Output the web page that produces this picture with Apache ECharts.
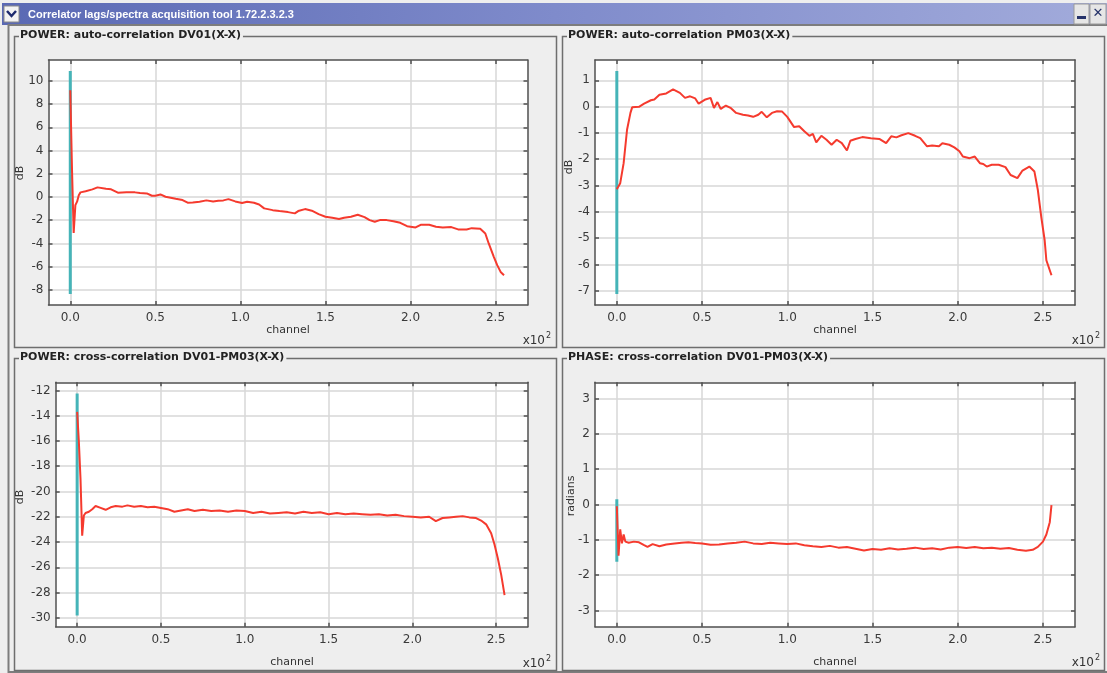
<!DOCTYPE html>
<html><head><meta charset="utf-8">
<script src="https://cdn.jsdelivr.net/npm/echarts@6/dist/echarts.min.js"></script>
<style>html,body{margin:0;padding:0;background:#eeeeee}#c{width:1107px;height:673px}</style>
</head><body><div id="c"></div>
<script>
// ---------- tick labels ----------
const channelTicks = [0, 50, 100, 150, 200, 250];
const dv01Ticks = [-8, -6, -4, -2, 0, 2, 4, 6, 8, 10];
const pm03Ticks = [-7, -6, -5, -4, -3, -2, -1, 0, 1];
const crossTicks = [-30, -28, -26, -24, -22, -20, -18, -16, -14, -12];
const phaseTicks = [-3, -2, -1, 0, 1, 2, 3];

// ---------- POWER auto-correlation DV01 (dB) ----------
const dv01Channel = [0,1,2,3,4,5,6,9,13,16,21,24,28,33,38,41,45,48,50,53,56,59,62,66,69,72,76,80,84,87,90,93,97,101,104,108,111,114,119,123,128,132,134,138,142,146,150,154,158,161,165,169,173,176,179,182,186,190,194,198,203,206,211,215,219,224,228,233,236,241,244,246,249,251,253,255];
const dv01Power = [9.2,2.5,-3.1,-0.7,-0.4,0.15,0.4,0.5,0.66,0.83,0.71,0.66,0.37,0.40,0.40,0.34,0.31,0.11,0.11,0.22,0.02,-0.06,-0.15,-0.26,-0.49,-0.47,-0.41,-0.29,-0.38,-0.32,-0.29,-0.18,-0.38,-0.52,-0.41,-0.49,-0.64,-0.98,-1.13,-1.21,-1.30,-1.41,-1.21,-1.04,-1.18,-1.47,-1.70,-1.79,-1.90,-1.79,-1.70,-1.53,-1.73,-1.99,-2.13,-1.99,-1.99,-2.08,-2.22,-2.51,-2.62,-2.39,-2.39,-2.56,-2.62,-2.59,-2.79,-2.79,-2.68,-2.74,-3.14,-4.0,-5.15,-5.87,-6.45,-6.73];

// ---------- POWER auto-correlation PM03 (dB) ----------
const pm03Channel = [0,2,4,6,8,9,13,16,20,22,25,29,33,37,40,43,46,48,52,55,57,59,61,64,67,70,74,77,80,83,85,88,91,94,97,100,104,107,110,113,115,117,120,123,126,129,132,135,137,140,144,149,154,158,161,164,167,171,175,178,182,185,189,191,195,198,201,203,207,210,213,215,217,220,224,228,231,235,238,242,245,247,249,251,252,255];
const pm03Power = [-3.14,-2.91,-2.15,-0.88,-0.24,-0.03,-0.01,0.11,0.24,0.27,0.45,0.50,0.65,0.52,0.33,0.39,0.31,0.11,0.27,0.33,-0.05,0.17,-0.09,0.04,-0.06,-0.24,-0.31,-0.34,-0.39,-0.31,-0.20,-0.41,-0.24,-0.18,-0.19,-0.39,-0.78,-0.75,-0.94,-1.11,-1.04,-1.36,-1.11,-1.26,-1.45,-1.26,-1.39,-1.67,-1.30,-1.23,-1.16,-1.20,-1.23,-1.39,-1.13,-1.17,-1.09,-1.01,-1.11,-1.20,-1.51,-1.48,-1.51,-1.39,-1.45,-1.55,-1.70,-1.90,-1.96,-1.90,-2.15,-2.18,-2.28,-2.21,-2.21,-2.30,-2.60,-2.72,-2.43,-2.28,-2.47,-3.17,-4.19,-5.08,-5.84,-6.41];

// ---------- POWER cross-correlation DV01-PM03 (dB) ----------
const crossChannel = [0,1,2,3,4,5,7,9,11,14,17,20,23,27,30,34,38,42,46,50,54,58,62,66,70,75,80,85,90,95,100,105,110,115,120,125,130,135,140,145,150,155,160,165,170,175,180,185,190,195,200,205,210,214,218,222,226,230,234,238,241,244,247,249,251,253,255];
const crossPower = [-13.7,-16.0,-19.0,-23.5,-21.9,-21.7,-21.6,-21.4,-21.15,-21.3,-21.45,-21.25,-21.15,-21.2,-21.1,-21.2,-21.15,-21.25,-21.2,-21.3,-21.4,-21.6,-21.5,-21.4,-21.55,-21.45,-21.55,-21.5,-21.6,-21.5,-21.55,-21.7,-21.6,-21.75,-21.7,-21.65,-21.75,-21.6,-21.7,-21.65,-21.8,-21.7,-21.8,-21.75,-21.8,-21.85,-21.8,-21.9,-21.85,-21.95,-22.0,-22.05,-22.0,-22.35,-22.1,-22.05,-22.0,-21.95,-22.05,-22.1,-22.3,-22.6,-23.3,-24.2,-25.3,-26.6,-28.2];

// ---------- PHASE cross-correlation DV01-PM03 (radians) ----------
const phaseChannel = [0,1,2,3,4,5,7,10,13,16,18,21,25,29,34,38,42,46,50,55,60,65,70,75,80,85,90,95,100,105,110,115,120,125,130,135,140,145,150,155,160,165,170,175,180,185,190,195,200,205,210,215,220,225,230,235,240,244,247,250,252,254,255];
const phaseRad = [-0.05,-1.45,-0.7,-1.1,-0.85,-1.05,-1.08,-1.05,-1.07,-1.15,-1.2,-1.12,-1.18,-1.13,-1.1,-1.08,-1.07,-1.09,-1.1,-1.14,-1.13,-1.1,-1.08,-1.05,-1.1,-1.12,-1.08,-1.1,-1.12,-1.1,-1.15,-1.18,-1.2,-1.17,-1.22,-1.2,-1.25,-1.3,-1.26,-1.28,-1.24,-1.27,-1.25,-1.22,-1.26,-1.24,-1.27,-1.22,-1.2,-1.23,-1.2,-1.24,-1.22,-1.25,-1.23,-1.28,-1.31,-1.28,-1.2,-1.05,-0.85,-0.5,-0.02];

// ---------- lag markers (vertical cyan traces at channel 0) ----------
const lagChannel = [0, 0];
const dv01Lag = [-8.35, 10.85];
const pm03Lag = [-7.12, 1.35];
const crossLag = [-29.82, -12.24];
const phaseLag = [-1.62, 0.15];

const zip = (a, b) => a.map((v, i) => [v, b[i]]);

const panels = [
  {title: 'POWER: auto-correlation DV01(X-X)', yName: 'dB', ch: dv01Channel, val: dv01Power, lag: dv01Lag, ticks: dv01Ticks,
   min: -9.3, max: 11.8, grid: {left: 48.5, top: 60, width: 479, height: 245}, box: [14, 36, 542, 311],
   yNamePos: [20, 173], chanPos: [288, 330], xPos: [545, 341]},
  {title: 'POWER: auto-correlation PM03(X-X)', yName: 'dB', ch: pm03Channel, val: pm03Power, lag: pm03Lag, ticks: pm03Ticks,
   min: -7.54, max: 1.77, grid: {left: 595, top: 60, width: 480, height: 245}, box: [562, 36, 542, 311],
   yNamePos: [569, 167], chanPos: [835, 330], xPos: [1094, 341]},
  {title: 'POWER: cross-correlation DV01-PM03(X-X)', yName: 'dB', ch: crossChannel, val: crossPower, lag: crossLag, ticks: crossTicks,
   min: -30.7, max: -11.36, grid: {left: 55.7, top: 382.3, width: 472, height: 244.4}, box: [14, 358, 542, 312],
   yNamePos: [20, 497], chanPos: [292, 662], xPos: [545, 663.5]},
  {title: 'PHASE: cross-correlation DV01-PM03(X-X)', yName: 'radians', ch: phaseChannel, val: phaseRad, lag: phaseLag, ticks: phaseTicks,
   min: -3.456, max: 3.456, grid: {left: 595, top: 382.3, width: 480, height: 244.4}, box: [562, 358, 542, 312],
   yNamePos: [571, 496], chanPos: [835, 662], xPos: [1094, 663]}
];

const FONT = 'DejaVu Sans';
const AXIS_COLOR = '#505050';
const GRID_COLOR = '#d7d7d7';
const RED = '#f53a2e';
const CYAN = '#45b4b8';

const grids = [], xAxes = [], yAxes = [], series = [];
const graphics = [];

// title bar
graphics.push({type: 'rect', shape: {x: 2, y: 3, width: 1105, height: 22},
  style: {fill: new echarts.graphic.LinearGradient(0, 0, 1, 0, [
    {offset: 0, color: '#5a69b4'}, {offset: 0.5, color: '#7f8bcb'}, {offset: 1, color: '#a2abdb'}])}, z: 1});
graphics.push({type: 'rect', shape: {x: 4, y: 6, width: 15, height: 16}, style: {fill: '#f3f3f3', stroke: '#8a8a8a', lineWidth: 1}, z: 2});
graphics.push({type: 'polyline', shape: {points: [[7, 11], [11.5, 16], [16, 11]]}, style: {stroke: '#1e2b6e', lineWidth: 2.5, fill: null}, z: 3});
graphics.push({type: 'text', x: 28, y: 15, style: {text: 'Correlator lags/spectra acquisition tool 1.72.2.3.2.3',
  fill: '#ffffff', font: 'bold 11px "Liberation Sans"', verticalAlign: 'middle'}, z: 3});
graphics.push({type: 'rect', shape: {x: 1074, y: 4, width: 15, height: 20}, style: {fill: '#e6e6e6', stroke: '#9a9a9a', lineWidth: 1}, z: 2});
graphics.push({type: 'rect', shape: {x: 1077, y: 16, width: 9, height: 3}, style: {fill: '#26336a'}, z: 3});
graphics.push({type: 'rect', shape: {x: 1090, y: 4, width: 16, height: 20}, style: {fill: '#e6e6e6', stroke: '#9a9a9a', lineWidth: 1}, z: 2});
graphics.push({type: 'text', x: 1098, y: 14, style: {text: '✕', fill: '#26336a', font: 'bold 13px "DejaVu Sans"', align: 'center', verticalAlign: 'middle'}, z: 3});
// window frame
graphics.push({type: 'rect', shape: {x: 8.5, y: 25, width: 1100, height: 647}, style: {fill: null, stroke: '#7d7d7d', lineWidth: 2}, z: 1});

panels.forEach((p, i) => {
  grids.push(Object.assign({containLabel: false, outerBoundsMode: 'none', show: true, backgroundColor: '#ffffff', borderWidth: 0}, p.grid));
  const axisLine = {show: true, onZero: false, lineStyle: {color: AXIS_COLOR, width: 1.5}};
  xAxes.push({gridIndex: i, type: 'value', position: 'bottom', min: -12.8, max: 268.8,
    axisLine, axisTick: {show: true, inside: true, length: 4, customValues: channelTicks, lineStyle: {color: AXIS_COLOR, width: 1.5}},
    axisLabel: {show: true, customValues: channelTicks, formatter: v => (v / 100).toFixed(1), color: '#3a3a3a', fontFamily: FONT, fontSize: 12, margin: 7},
    splitLine: {show: true, lineStyle: {color: GRID_COLOR, width: 1.5}}});
  xAxes.push({gridIndex: i, type: 'value', position: 'top', min: -12.8, max: 268.8,
    axisLine, axisTick: {show: true, inside: true, length: 4, customValues: channelTicks, lineStyle: {color: AXIS_COLOR, width: 1.5}},
    axisLabel: {show: false}, splitLine: {show: false}});
  yAxes.push({gridIndex: i, type: 'value', position: 'left', min: p.min, max: p.max,
    axisLine, axisTick: {show: true, inside: true, length: 4, customValues: p.ticks, lineStyle: {color: AXIS_COLOR, width: 1.5}},
    axisLabel: {show: true, customValues: p.ticks, color: '#3a3a3a', fontFamily: FONT, fontSize: 12, margin: 5},
    splitLine: {show: true, lineStyle: {color: GRID_COLOR, width: 1.5}}});
  yAxes.push({gridIndex: i, type: 'value', position: 'right', min: p.min, max: p.max,
    axisLine, axisTick: {show: true, inside: true, length: 4, customValues: p.ticks, lineStyle: {color: AXIS_COLOR, width: 1.5}},
    axisLabel: {show: false}, splitLine: {show: false}});
  series.push({type: 'line', xAxisIndex: 2 * i, yAxisIndex: 2 * i, data: zip(lagChannel, p.lag),
    showSymbol: false, lineStyle: {color: CYAN, width: 3}, z: 3, silent: true});
  series.push({type: 'line', xAxisIndex: 2 * i, yAxisIndex: 2 * i, data: zip(p.ch, p.val),
    showSymbol: false, lineStyle: {color: RED, width: 2}, z: 4, silent: true});

  const [bx, by, bw, bh] = p.box;
  graphics.push({type: 'rect', shape: {x: bx + 0.5, y: by + 0.5, width: bw, height: bh}, style: {fill: null, stroke: '#6e6e6e', lineWidth: 1.5}, z: 1});
  graphics.push({type: 'text', x: bx + 5, y: by - 0.5, style: {text: p.title, fill: '#222222', font: 'bold 11px "DejaVu Sans"',
    verticalAlign: 'middle', backgroundColor: '#eeeeee', padding: [1, 2, 1, 1]}, z: 5});
  graphics.push({type: 'text', x: p.yNamePos[0], y: p.yNamePos[1], rotation: Math.PI / 2,
    style: {text: p.yName, fill: '#333333', font: '11px "DejaVu Sans"', align: 'center', verticalAlign: 'middle'}, z: 5});
  graphics.push({type: 'text', x: p.chanPos[0], y: p.chanPos[1],
    style: {text: 'channel', fill: '#333333', font: '11px "DejaVu Sans"', align: 'center', verticalAlign: 'middle'}, z: 5});
  graphics.push({type: 'text', x: p.xPos[0], y: p.xPos[1],
    style: {text: 'x10', fill: '#333333', font: '12px "DejaVu Sans"', align: 'right', verticalAlign: 'middle'}, z: 5});
  graphics.push({type: 'text', x: p.xPos[0] + 1, y: p.xPos[1] - 5,
    style: {text: '2', fill: '#333333', font: '8px "DejaVu Sans"', align: 'left', verticalAlign: 'middle'}, z: 5});
});

const chart = echarts.init(document.getElementById('c'), null, {renderer: 'canvas', width: 1107, height: 673});
chart.setOption({
  animation: false,
  backgroundColor: '#eeeeee',
  grid: grids,
  xAxis: xAxes,
  yAxis: yAxes,
  series: series,
  graphic: {elements: graphics}
});
</script>
</body></html>
